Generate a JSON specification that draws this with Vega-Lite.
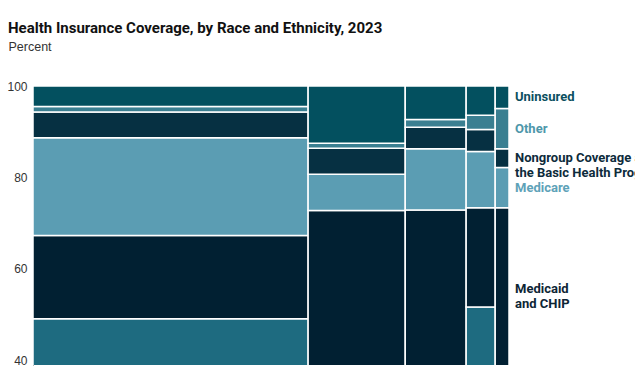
{
  "$schema": "https://vega.github.io/schema/vega-lite/v6.json",
  "autosize": {"type": "none"},
  "width": 476,
  "height": 279,
  "padding": {"left": 33, "top": 86, "right": 126, "bottom": 5},
  "background": "white",
  "title": {
    "text": "Health Insurance Coverage, by Race and Ethnicity, 2023",
    "anchor": "start",
    "frame": "group",
    "dx": -25,
    "offset": 4,
    "font": "Roboto",
    "fontSize": 15,
    "fontWeight": "bold",
    "color": "#111111"
  },
  "data": {
    "values": [
      {"group": "White", "g": 1, "share": 57.8, "category": "Employment-Based Coverage", "c": 1, "pct": 49.1},
      {"group": "White", "g": 1, "share": 57.8, "category": "Medicaid and CHIP", "c": 2, "pct": 18.2},
      {"group": "White", "g": 1, "share": 57.8, "category": "Medicare", "c": 3, "pct": 21.4},
      {"group": "White", "g": 1, "share": 57.8, "category": "Nongroup Coverage and the Basic Health Program", "c": 4, "pct": 5.6},
      {"group": "White", "g": 1, "share": 57.8, "category": "Other", "c": 5, "pct": 1.2},
      {"group": "White", "g": 1, "share": 57.8, "category": "Uninsured", "c": 6, "pct": 4.5},

      {"group": "Hispanic", "g": 2, "share": 20.4, "category": "Employment-Based Coverage", "c": 1, "pct": 38.0},
      {"group": "Hispanic", "g": 2, "share": 20.4, "category": "Medicaid and CHIP", "c": 2, "pct": 34.8},
      {"group": "Hispanic", "g": 2, "share": 20.4, "category": "Medicare", "c": 3, "pct": 7.9},
      {"group": "Hispanic", "g": 2, "share": 20.4, "category": "Nongroup Coverage and the Basic Health Program", "c": 4, "pct": 5.7},
      {"group": "Hispanic", "g": 2, "share": 20.4, "category": "Other", "c": 5, "pct": 1.1},
      {"group": "Hispanic", "g": 2, "share": 20.4, "category": "Uninsured", "c": 6, "pct": 12.5},

      {"group": "Black", "g": 3, "share": 12.8, "category": "Employment-Based Coverage", "c": 1, "pct": 38.0},
      {"group": "Black", "g": 3, "share": 12.8, "category": "Medicaid and CHIP", "c": 2, "pct": 34.9},
      {"group": "Black", "g": 3, "share": 12.8, "category": "Medicare", "c": 3, "pct": 13.4},
      {"group": "Black", "g": 3, "share": 12.8, "category": "Nongroup Coverage and the Basic Health Program", "c": 4, "pct": 4.7},
      {"group": "Black", "g": 3, "share": 12.8, "category": "Other", "c": 5, "pct": 1.7},
      {"group": "Black", "g": 3, "share": 12.8, "category": "Uninsured", "c": 6, "pct": 7.3},

      {"group": "Asian", "g": 4, "share": 6.1, "category": "Employment-Based Coverage", "c": 1, "pct": 51.7},
      {"group": "Asian", "g": 4, "share": 6.1, "category": "Medicaid and CHIP", "c": 2, "pct": 21.7},
      {"group": "Asian", "g": 4, "share": 6.1, "category": "Medicare", "c": 3, "pct": 12.3},
      {"group": "Asian", "g": 4, "share": 6.1, "category": "Nongroup Coverage and the Basic Health Program", "c": 4, "pct": 4.8},
      {"group": "Asian", "g": 4, "share": 6.1, "category": "Other", "c": 5, "pct": 3.1},
      {"group": "Asian", "g": 4, "share": 6.1, "category": "Uninsured", "c": 6, "pct": 6.4},

      {"group": "Other Race", "g": 5, "share": 2.9, "category": "Employment-Based Coverage", "c": 1, "pct": 38.0},
      {"group": "Other Race", "g": 5, "share": 2.9, "category": "Medicaid and CHIP", "c": 2, "pct": 35.4},
      {"group": "Other Race", "g": 5, "share": 2.9, "category": "Medicare", "c": 3, "pct": 8.8},
      {"group": "Other Race", "g": 5, "share": 2.9, "category": "Nongroup Coverage and the Basic Health Program", "c": 4, "pct": 4.1},
      {"group": "Other Race", "g": 5, "share": 2.9, "category": "Other", "c": 5, "pct": 8.8},
      {"group": "Other Race", "g": 5, "share": 2.9, "category": "Uninsured", "c": 6, "pct": 4.9}
    ]
  },
  "transform": [
    {"stack": "pct", "groupby": ["group"], "sort": [{"field": "c", "order": "ascending"}], "as": ["y0", "y1"]},
    {"stack": "share", "groupby": ["category"], "sort": [{"field": "g", "order": "ascending"}], "as": ["x0", "x1"]}
  ],
  "layer": [
    {
      "mark": {"type": "rect", "stroke": "white", "strokeWidth": 1.5, "clip": true},
      "encoding": {
        "x": {"field": "x0", "type": "quantitative", "scale": {"domain": [0, 100], "nice": false}, "axis": null},
        "x2": {"field": "x1"},
        "y": {
          "field": "y0", "type": "quantitative",
          "scale": {"domain": [39, 100], "nice": false, "zero": false},
          "axis": {
            "values": [40, 60, 80, 100],
            "ticks": false, "grid": false,
            "domain": true, "domainColor": "#777777", "domainWidth": 1,
            "labelFont": "Liberation Sans", "labelFontSize": 12, "labelColor": "#333333", "labelPadding": 6,
            "title": "Percent", "titleAngle": 0, "titleAlign": "left", "titleBaseline": "alphabetic",
            "titleX": -25, "titleY": -36, "titleFont": "Liberation Sans", "titleFontSize": 12.5,
            "titleFontWeight": "normal", "titleColor": "#333333"
          }
        },
        "y2": {"field": "y1"},
        "color": {
          "field": "category", "type": "nominal", "legend": null,
          "scale": {
            "domain": ["Uninsured", "Other", "Nongroup Coverage and the Basic Health Program", "Medicare", "Medicaid and CHIP", "Employment-Based Coverage"],
            "range": ["#03505f", "#3a7f91", "#063042", "#5b9db3", "#012032", "#1e6b80"]
          }
        }
      }
    },
    {
      "transform": [
        {"filter": "datum.g == 5 && datum.c >= 2"},
        {"calculate": "(datum.y0 + datum.y1) / 2", "as": "ym"},
        {"calculate": "datum.c == 4 ? 'Nongroup Coverage and|the Basic Health Program' : (datum.c == 2 ? 'Medicaid|and CHIP' : datum.category)", "as": "label"}
      ],
      "mark": {"type": "text", "align": "left", "baseline": "middle", "dx": 6, "font": "Roboto", "fontSize": 13, "fontWeight": "bold", "lineBreak": "|", "lineHeight": 15},
      "encoding": {
        "x": {"field": "x1", "type": "quantitative"},
        "y": {"field": "ym", "type": "quantitative"},
        "text": {"field": "label", "type": "nominal"},
        "color": {
          "field": "category", "type": "nominal", "legend": null,
          "scale": {
            "domain": ["Uninsured", "Other", "Nongroup Coverage and the Basic Health Program", "Medicare", "Medicaid and CHIP"],
            "range": ["#0b4f60", "#4e97aa", "#0d2b3b", "#5ea2b8", "#0d2535"]
          }
        }
      }
    }
  ],
  "resolve": {"scale": {"color": "independent"}},
  "config": {"view": {"stroke": null}}
}
